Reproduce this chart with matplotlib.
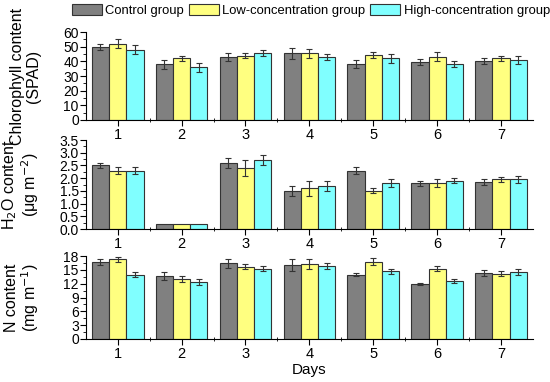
import matplotlib.pyplot as plt
import numpy as np
from matplotlib.ticker import MultipleLocator
from matplotlib.patches import Patch

plt.rcParams['font.family'] = ['Liberation Sans', 'DejaVu Sans']
plt.rcParams['font.size'] = 10

days = ["1", "2", "3", "4", "5", "6", "7"]
groups = ["Control group", "Low-concentration group", "High-concentration group"]
colors = ["#808080", "#ffff80", "#80ffff"]

# chlorophyll (SPAD)
spad_mean = [[50, 38, 43, 45.4, 38.2, 39.3, 40.5],
             [52, 42, 44, 45.4, 44.3, 43.2, 42],
             [48, 36, 46, 43.2, 42, 38.2, 41]]
spad_err = [[2, 3, 3, 4, 3, 2, 2],
            [3, 2, 2, 3, 2, 3, 2],
            [3, 3, 2, 2, 3, 2, 3]]

# H2O content
h2o_mean = [[2.5, 0.2, 2.6, 1.5, 2.3, 1.8, 1.85],
            [2.3, 0.2, 2.4, 1.6, 1.5, 1.8, 1.95],
            [2.3, 0.2, 2.7, 1.7, 1.8, 1.9, 1.95]]
h2o_err = [[0.1, 0, 0.2, 0.2, 0.15, 0.1, 0.1],
           [0.15, 0, 0.3, 0.3, 0.1, 0.15, 0.1],
           [0.15, 0, 0.2, 0.2, 0.15, 0.1, 0.15]]

# N content
n_mean = [[16.7, 13.7, 16.4, 16.1, 14.0, 12.0, 14.3],
          [17.3, 13.0, 15.7, 16.3, 16.8, 15.3, 14.2],
          [14.0, 12.4, 15.3, 15.8, 14.7, 12.6, 14.6]]
n_err = [[0.6, 0.8, 1.0, 1.3, 0.3, 0.2, 0.6],
         [0.6, 0.6, 0.6, 1.1, 0.8, 0.6, 0.6],
         [0.5, 0.7, 0.5, 0.6, 0.5, 0.5, 0.6]]

panels = [
    (spad_mean, spad_err, "Chlorophyll content\n(SPAD)", 60, 10, 5, "{x:.0f}"),
    (h2o_mean, h2o_err, "H$_2$O content\n(\u03bcg m$^{-2}$)", 3.5, 0.5, 0.25, "{x:.1f}"),
    (n_mean, n_err, "N content\n(mg m$^{-1}$)", 18, 3, 1.5, "{x:.0f}"),
]
boxes = [[0.156, 0.686, 0.813, 0.230],
         [0.156, 0.4005, 0.813, 0.233],
         [0.156, 0.1126, 0.813, 0.217]]

fig = plt.figure(figsize=(5.5, 3.82), dpi=100)
x = np.arange(1, len(days) + 1)
w = 0.27

for (mean, err, label, top, major, minor, fmt), box in zip(panels, boxes):
    ax = fig.add_axes(box)
    for i in range(3):
        e = np.array(err[i])
        ax.bar(x + (i - 1) * w, mean[i], w, color=colors[i], edgecolor="#333333", linewidth=0.8,
               yerr=np.where(e > 0, e, np.nan), capsize=2.5,
               error_kw=dict(ecolor="#333333", elinewidth=0.8, capthick=0.8))
    ax.set_xlim(0.5, 7.5)
    ax.set_ylim(0, top)
    ax.yaxis.set_major_locator(MultipleLocator(major))
    ax.yaxis.set_minor_locator(MultipleLocator(minor))
    ax.yaxis.set_major_formatter(fmt)
    ax.set_xticks(x)
    ax.set_xticklabels(days)
    ax.set_xticks(np.arange(1.5, 7.5, 1), minor=True)
    ax.tick_params(axis="y", which="major", length=4, pad=1, labelsize=10)
    ax.tick_params(axis="y", which="minor", length=2.5)
    ax.tick_params(axis="x", which="major", length=4, pad=2, labelsize=10.5)
    ax.tick_params(axis="x", which="minor", length=3, direction="inout")
    ax.spines["top"].set_visible(False)
    ax.spines["right"].set_visible(False)
    ax.set_ylabel(label, fontsize=11.5, linespacing=1.05)
    ax.yaxis.set_label_coords(-0.1, 0.5)
    last = ax

last.set_xlabel("Days", fontsize=11, labelpad=1)

handles = [Patch(facecolor=c, edgecolor="#333333", linewidth=0.8) for c in colors]
fig.legend(handles, groups, loc="upper center", bbox_to_anchor=(0.565, 1.02), ncol=3,
           frameon=False, handlelength=2.3, handleheight=0.9, handletextpad=0.25,
           columnspacing=0.4, fontsize=9.4)

fig.savefig("out.png", dpi=100)
